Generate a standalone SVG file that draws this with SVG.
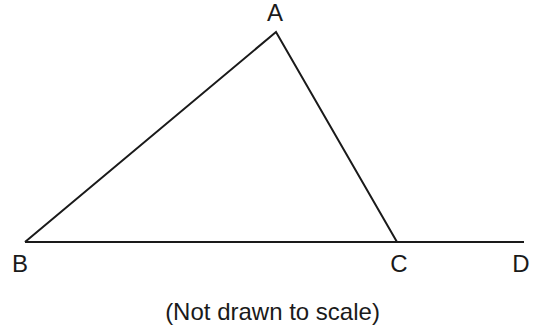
<svg xmlns="http://www.w3.org/2000/svg" width="542" height="330" viewBox="0 0 542 330">
<style>
.l{stroke:#1a1a1a;stroke-width:2;fill:none;stroke-linecap:butt;stroke-linejoin:miter}
.t{font-family:"Liberation Sans",Arial,sans-serif;font-size:24px;fill:#1a1a1a;text-anchor:middle}
</style>
<rect width="542" height="330" fill="#fff"/>
<g id="connectors">
<polyline class="l" points="25,242 276,32 397,242"/>
<line class="l" x1="25" y1="242" x2="524" y2="242"/>
</g>
<g id="A"><text class="t" x="275" y="21">A</text></g>
<g id="B"><text class="t" x="20" y="272">B</text></g>
<g id="C"><text class="t" x="399" y="272">C</text></g>
<g id="D"><text class="t" x="521" y="272">D</text></g>
<g id="caption"><text class="t" x="272.5" y="320">(Not drawn to scale)</text></g>
</svg>
